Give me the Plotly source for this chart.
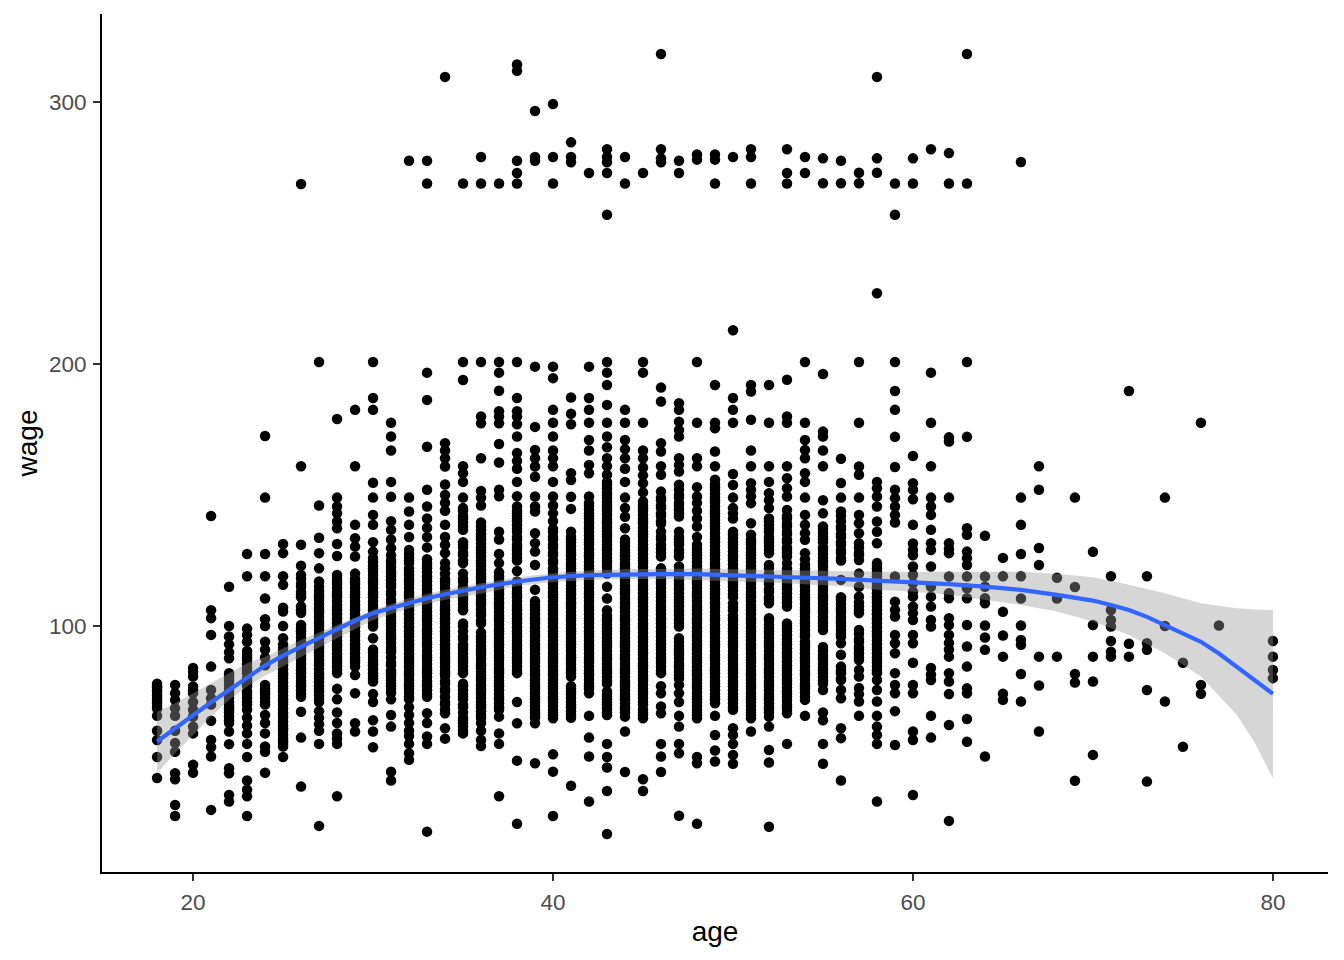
import plotly.graph_objects as go

w18 = [42,50,56.5,60,65.7,68.5,70.5,72.5,74.5,76.5,78,69.5,71.5,73.5,75.5,77]
w19 = [27.5,31.7,41.5,43.8,52,55.3,60,65.7,68.6,71.8,74.3,77.5]
w20 = [44,47,59,61.6,65.4,68,71,74.3,76.9,80.7,84,82.5,75.5]
w21 = [29.8,50.2,53.7,56.5,63.8,70,72.4,75.6,84.5,96.6,103,106,142]
w22 = [33,35.5,43.8,45.7,54.9,59.7,63,65.5,68,70,72.5,75,77.5,80,82,87.7,90,93,96,100,115,64,67,69,71,74,76,79,81]
w23 = [27.5,35,37.5,41,50,55,59,62,65,68,70,72.5,75,78,80,83,85.5,88,90.5,94,96.6,99,119,127.5,71,74,77,79,82,84,87,89]
w24 = [44,52,54,59,63,66,70,72.5,75,77.5,85,88,91,94,100,102.6,110.5,119,127.5,149,172.5,71,74,76]
w25 = [50,54,56,58.5,61,63.5,66,68.5,71,73.5,76,78.5,81,83.5,86,88.5,91,93,95.3,100,105.5,107,115.7,119,127.8,131.3]
w26 = [38.7,57.4,67.3,73,75.5,78,80.5,83,85.5,88,90.5,93,95.5,98,100.4,105,107.5,111,113,116,119.5,123,131,161,268.7]
w27 = [23.7,55,60,62.5,65,67.5,71,73.5,76,78.5,81,83.5,86,88.5,91,93.5,96,98.5,101,103.5,106,108.5,111,113.5,117,122,127.8,133.7,146,200.8]
w28 = [35,55,57,59,63,67,72,76,82,84.5,87,89.5,92,94.5,97,99.5,102,104.5,107,109.5,112,114.5,117,119.5,126.7,131.3,137.3,139.9,143,145.6,149,179]
w29 = [59.7,62.9,74.3,81.3,84.5,87,89.5,92,94.5,97,99.5,102,104.5,107,109.5,112,114.5,117,120,126.5,130.3,133.5,138.6,161,182.5]
w30 = [53.7,59.7,64,71,74,78.8,81,83.5,86,88.5,91,95.3,99.8,102,104.5,107,109.5,112,114.5,117,119.5,122,124.5,128.4,132,138.6,142.4,149,154.7,182.5,187,200.8]
w31 = [41,44.4,61.6,66,72,74.5,77,79.4,82,85,88,91,93.5,96,98.5,101,103.5,106,109,112,115,117.5,120,122.5,125,129.7,133,136.7,140,149.3,155,167,172.3,177.6]
w32 = [48.9,51.4,55,58,60,63,66,69,72,74.5,77,79.5,82,84.5,87,89.5,92,94.5,97,99.5,102,104.5,107,109.5,112,114.5,117,119.5,122,125,127.5,129,134,138.6,143.7,149,277.6]
w33 = [21.5,55,57.8,63,66.7,73,75.5,78,80.5,83,85.5,88,90.5,93,95.5,98,100.5,103,105.5,108,110.5,113,115.5,118,120.5,123,125.5,130,134,137.5,141,145.6,152,168.4,186.3,196.7,268.9,277.6]
w34 = [57,61,66.7,70,73,76,79,82,84.5,87,89.5,92,94.5,97,99.5,102,104.5,107,109.5,112,114.5,117,120,124,127.8,131,134,138.6,144,147,150,154,160.9,164,167,169.8,309.6]
w35 = [59,61.5,64,67,70,73,75.5,78,82,84.5,87,89.5,92,95,98,101,106,108.5,111,114,117,120,124,127,130,132,136.7,139.5,142,145,149,155,158.3,161,193.9,200.8,268.9]
w36 = [54.2,56.5,60,63,65,67.5,70,72.5,75,77.5,80,82.5,85,87.5,90,92.5,95,97.5,101,104,106.5,109,111.5,114,116.5,119,121.5,124,126.5,129,131.5,134,136.5,139.5,146,149,151.5,164,177.4,180,200.8,268.9,279]
w37 = [35,55,59,65.4,68,70.5,73,75.5,78,80.5,83,85.5,88,90.5,93,95.5,98,100.5,103,105.5,108,110.5,113,115.5,118,120.5,124,127.5,133,136,149.5,152,162.4,169.5,177.4,180,182,189.8,196.7,200.8,268.9]
w38 = [24.5,48.6,62.9,71,82,84.5,87,89.5,92,94.5,97,99.5,102,104.5,107,109.5,112,114.5,117,121,125,127.5,130,133,136,138.5,141,143,145.6,149.5,155,160,163,166,172.3,177,180,182,187,200.8,268.9,272.9,277.6,311.9,314.3]
w39 = [47.6,62.9,65,67,69.5,72,74.5,77,79.5,82,84.5,87,89.5,92,94.5,97,99.5,102,104.5,107,109.5,113.8,123.3,128.4,131.6,135.4,143.7,145.6,149.4,157,160.9,164,167.2,176,199,277.6,279,296.6]
w40 = [27.5,44.4,51,64.8,67,69.5,72,74.5,77,79.5,82,84.5,87,89.5,92,94.5,97,99.5,102,104.5,107,109.5,112,114.5,117,119.5,122,125,128,131,134,137,140,143,146,149.4,155,161,164,167,172.3,177.6,182.5,194.6,199,268.9,279,299.2]
w41 = [39,65,67.5,70,72.5,75,77,80.7,83,85.5,88,90.5,93,95.5,98,100.5,103,105.5,108,110.5,113,115.5,118,120.5,123,125.5,128,130.5,133,136,144.7,149.3,155.7,158.3,177,181,187.2,277,279,284.6]
w42 = [33,50.2,57.4,65.7,74.3,77,79.5,82,84.5,87,89.5,92,94.5,97,99.5,102,104.5,107,109.5,112,114.5,117,119.5,122,124.5,127,129.5,132,134.5,137,139.5,142,144.5,147,149.4,158.3,161.5,167,171,177.6,182.5,187,199,272.9]
w43 = [20.6,37,46,50,55,66,68.5,71,73,75,78,80.5,83,85.5,88,90.5,93,95.5,98,100.5,103,106,110.5,115,120,122.5,125,127.5,130,132.5,135,137.5,140,142.5,145,147.5,150,152.5,155,157.7,161,164,168.2,172.3,177.6,184.4,192,196.7,200.8,257,272.9,277,279,282]
w44 = [44.3,59.7,65.4,68,70.5,73,75.5,78,80.5,83,85.5,88,90.5,93,95.5,98,100.5,103,105.5,108,110.5,113,115.5,118,120.5,123,125.5,128,130.5,133,137.3,141.7,145,149,155,160,164,167.5,171,177.6,182.5,268.9,279]
w45 = [37,41.5,64.8,67,70,72.5,75,77.5,80,82.5,85,87.5,90,92.5,95,97.5,100,102.5,105,107.5,110,112.5,115,117.5,120,122.5,125,127.5,130,132.5,135,137.5,140,142.5,145,147.5,151,154.5,157.5,160.5,164,167,177.6,196.7,200.8,272.9]
w46 = [44.3,50.2,55,66.7,69.3,74.3,77,82,84.5,87,89.5,92,94.5,97,99.5,102,104.5,107,109.5,112,114.5,117,119.5,122,126.5,129.5,133,136,139,142,145,148,151.3,157.7,161,166.6,169.8,185.7,191,277,278.5,282,318.3]
w47 = [27.6,51.4,55,61.6,65.7,71,74.3,77.5,80,82.5,85,87.5,90,92.5,95.3,99.8,102.5,105,107.5,110,112.5,115,117.5,120,122.7,126.5,129,132,134,136,141.8,144.5,147,150,153.9,159,161.5,164,172.3,174.8,178,182.5,185,272.9,277.6]
w48 = [24.5,47.6,50,64.8,67,69.5,72,74.5,77,79.5,82,84.5,87,89.5,92,94.5,97,99.5,102,104.5,107,109.5,112,114.5,117,119.5,122,124.5,127,129.5,134,138,141,144,147,149.4,153,161,164,177.6,200.8,278,280]
w49 = [48.3,52.5,58.4,65.7,70.5,73,75.5,78,80.5,83,85.5,88,90.5,93,95.5,98,100.5,103,105.5,108,110.5,113,115.5,118,120.5,123,125.5,128,130.5,133,135.5,138,140.5,143,145.5,148,150.5,153,155.8,161,166.6,175.5,177.6,192,268.9,278,280]
w50 = [47.4,50.8,55,58.4,61,68,70.5,73,75.5,78,80.5,83,85.5,88,90.5,93,95.5,98,100.5,103,106,108.7,111,113.5,116,118.5,121,123.5,126,128.5,131,133.5,136,141,143,145,149,153.8,158,177.6,182.5,187,212.9,279]
w51 = [59.7,64.8,67,69.5,72,74.5,77,79.5,82,84.5,87,89.5,92,94.5,97,99.5,102,104.5,107,109.5,112,114.5,117,119.5,122,124.5,127,129.5,132,134.8,139.2,146.9,149.5,152,154.5,161,167,178.7,189.5,192,268.9,279,282]
w52 = [23.4,47.9,52.7,61.6,65.4,68,70.5,73,75.5,78,80.5,83,85.5,88,90.5,93,95.5,98,100.5,103,108.7,111,114,117,120,123.3,127.8,130.5,133,136,138.5,141,145,148,150.7,155,161,177.6,192]
w53 = [55,66.7,69,71.5,74,76.5,79,81.5,84,86.5,89,91.5,94,96.5,99,101,107.4,110,112.5,115,117.5,120,122,124,126.5,129,132,135,138,141,144.3,149.4,152.6,156.4,161,177.6,180,194,268.9,272.9,282]
w54 = [65.7,71.8,74.5,77,79.5,82,84.5,87,89.5,92,94,96,98.5,101,103.5,106,108.5,111,113.5,116,118.5,121,123.5,125.5,127.8,132.9,135.4,138.6,142.4,149,155,158.3,164,167.2,171,177.6,200.8,272.9,279]
w55 = [47.4,55,64,67,75.6,78,80.5,83,85.5,88,90.5,92,98.5,101,103.5,106,108.5,111,113.5,116,118.5,120,122.5,125,127.5,130,133,135.5,138,143,148,161,167,172.3,174.2,196.2,269,278.5]
w56 = [41,57.2,61,72.4,75.6,79.4,82,84.5,89,93.4,96,98.5,101,103.5,106,108.5,111,117.6,125,128,131,134,137,140,143.7,149,154.6,163.8,269,277.6]
w57 = [65.7,71.2,74,76.3,80.7,83.2,87,89.5,92,95,98.5,104.9,107.5,111.2,115,120,125.2,128,131.6,135.4,139.2,142.4,149,157.7,160.9,177.6,200.8,269,273]
w58 = [33,55,58.4,61.6,65.7,71.2,75.6,79.4,82,84.5,87,89.5,92,94.5,97,99.5,102,104.5,106,107.4,110,112.5,115,117.5,120,122,124,131.6,136,139.9,145.6,149.4,152.6,155,227,273,278.5,309.6]
w59 = [54.6,67.5,74.3,77.5,82,89.6,93.4,96.6,103.6,106.1,109.3,118.9,139.5,142.4,145.6,148.8,152,160.7,172.2,182.5,189.7,200.8,257,268.9]
w60 = [35.5,56.5,59.7,74.3,77.5,86,93.4,96.6,102.3,104.9,107.4,111.2,113.1,116.3,119.5,122.7,127,129,131.5,138.6,148.4,152,154.5,164.9,268.9,278.5]
w61 = [57.4,65.7,79.4,81.5,84,99.8,102.3,107.4,111.2,115,122.7,129,131.6,136.7,142.4,145.6,149,161,177.6,196.7,282]
w62 = [25.6,62.2,74,78.8,82,88.3,91,93.5,96.6,100.4,103,110.6,112.5,118.9,127.8,129.5,131.6,149,170.4,172,268.9,280.5]
w63 = [55.8,64.5,74.3,76.2,84.5,92.2,100.4,110.6,114.4,118.9,123.3,125.9,128.4,134.8,137.3,172.2,200.8,268.9,318.3]
w64 = [50.2,90.9,95.6,100.2,108.7,110.6,115,118.9,134.4]
w65 = [71.8,74.1,88.3,96.4,105.4,119,126]
w66 = [71.2,81.7,92.8,94.7,100.2,110.5,119,127.5,138.6,149,277.1]
w67 = [59.7,77.3,88.3,123.3,129.8,152,161]
w68 = [88.3,110.5,118.4]
w69 = [40.9,78.4,81.7,114.9,149]
w70 = [50.8,78.8,88.3,100.4,128.3]
w71 = [88.3,90.2,94.3,99.8,102.3,106.1,119]
w72 = [88.3,93.2,189.7]
w73 = [40.6,75.6,90.9,93.4,119]
w74 = [71.2,100,149]
w75 = [53.9,86]
w76 = [74.1,77.5,177.6]
w77 = [100.2]
w80 = [80.1,83.2,88.3,94.3]

point_ages = list(range(18, 78)) + [80]
columns = [w18,w19,w20,w21,w22,w23,w24,w25,w26,w27,w28,w29,w30,w31,w32,w33,w34,w35,w36,w37,
           w38,w39,w40,w41,w42,w43,w44,w45,w46,w47,w48,w49,w50,w51,w52,w53,w54,w55,w56,w57,
           w58,w59,w60,w61,w62,w63,w64,w65,w66,w67,w68,w69,w70,w71,w72,w73,w74,w75,w76,w77,w80]

# further wages read inside the columns that look solid, for ages 25 to 58
e25 = [55,57,60,62,65,67,70,72,75,77,80,82,85,87,90,92]
e26 = [74,77,79,82,84,87,89,92,94,97,99,106,112,115,118]
e27 = [72,75,77,80,82,85,87,90,92,95,97,100,102,105,107,110,112,115]
e28 = [83,86,88,91,93,96,98,101,103,106,108,111,113,116,118]
e29 = [86,88,91,93,96,98,101,103,106,108,111,113,116,118]
e30 = [80,82,85,87,90,101,103,106,108,111,113,116,118,121,123,126]
e31 = [76,78,81,83,86,90,92,95,97,100,102,105,107,110,113,116,119,121,124,127]
e32 = [73,76,78,81,83,86,88,91,93,96,98,101,103,106,108,111,113,116,118,121,124,126]
e33 = [74,77,79,82,84,87,89,92,94,97,99,102,104,107,109,112,114,117,119,122,124]
e34 = [68,71,75,78,81,83,86,88,91,93,96,98,101,103,106,108,111,113,116,118,122]
e35 = [60,63,65,69,72,74,77,83,86,88,91,93,96,100,107,110,112,115,118,125,128,131,138,141,144]
e36 = [66,69,71,74,76,79,81,84,86,89,91,94,96,102,105,108,110,113,115,118,120,123,125,128,130,133,135,138]
e37 = [69,72,74,77,79,82,84,87,89,92,94,97,99,102,104,107,109,112,114,117,119]
e38 = [83,86,88,91,93,96,98,101,103,106,108,111,113,116,126,129,131,134,137,140,142,144]
e39 = [66,68,71,73,76,78,81,83,86,88,91,93,96,98,101,103,106,108]
e40 = [66,68,71,73,76,78,81,83,86,88,91,93,96,98,101,103,106,108,111,113,116,118,121,124,127,130,133,136]
e41 = [66,69,71,74,76,82,84,87,89,92,94,97,99,102,104,107,109,112,114,117,119,122,124,127,129,132,134]
e42 = [76,78,81,83,86,88,91,93,96,98,101,103,106,108,111,113,116,118,121,123,126,128,131,133,136,138,141,143,146]
e43 = [67,70,72,74,79,82,84,87,89,92,94,97,99,102,104,121,124,126,129,131,134,136,139,141,144,146,149,151,154]
e44 = [67,69,72,74,77,79,82,84,87,89,92,94,97,99,102,104,107,109,112,114,117,119,122,124,127,129,132]
e45 = [66,68,71,74,76,79,81,84,86,89,91,94,96,99,101,104,106,109,111,114,116,119,121,124,126,129,131,134,136,139,141,144,146]
e46 = [83,86,88,91,93,96,98,101,103,106,108,111,113,116,118,121,128,131,134,140,143,146,149]
e47 = [81,84,86,89,91,94,101,104,106,109,111,114,116,119,121,128,131,133,143,146,149,152]
e48 = [66,68,71,73,76,78,81,83,86,88,91,93,96,98,101,103,106,108,111,113,116,118,121,123,126,128,131]
e49 = [72,74,77,79,82,84,87,89,92,94,97,99,102,104,107,109,112,114,117,119,122,124,127,129,132,134,137,139,142,144,147,149,152,154]
e50 = [69,72,74,77,79,82,84,87,89,92,94,97,99,102,104,107,112,115,117,120,122,125,127,130,132,135]
e51 = [66,68,71,73,76,78,81,83,86,88,91,93,96,98,101,103,106,108,111,113,116,118,121,123,126,128,131,133]
e52 = [67,69,72,74,77,79,82,84,87,89,92,94,97,99,102,110,113,116,119,122,129,132,134,137,140]
e53 = [68,70,73,75,78,80,83,85,88,90,93,95,98,100,109,111,114,116,119,121,128,130,133,136,139,142]
e54 = [73,76,78,81,83,86,88,91,93,97,100,102,105,107,110,112,115,117,120,122]
e55 = [79,82,84,87,89,100,102,105,107,110,112,115,117,121,124,126,129,132,134,137]
e56 = [80,83,97,100,102,105,107,110,126,129,132,135,138,142]
e57 = [88,91,94,97,106,109,127,130]
e58 = [83,86,88,91,93,96,98,101,103,105,109,111,114,116,119,121,123]

dense_ages = list(range(25, 59))
dense_columns = [e25,e26,e27,e28,e29,e30,e31,e32,e33,e34,e35,e36,e37,e38,e39,e40,e41,e42,e43,e44,
                 e45,e46,e47,e48,e49,e50,e51,e52,e53,e54,e55,e56,e57,e58]

fit_age = [18,19,20,21,22,23,24,25,26,27,28,29,30,31,32,33,34,35,36,38,40,42,44,46,48,50,52,54,56,58,60,62,64,66,68,70,71,72,73,74,75,76,77,78,79,80]
fit_wage = [55.9,61,66,70.9,75.6,80.4,84.9,88.7,92.2,95.6,98.8,102,104.9,106.9,108.8,110.6,112.1,113.5,114.8,117,118.6,119.4,119.8,119.8,119.8,119.4,119.1,118.6,118,117.3,116.7,116,115,113.8,111.9,109.7,108,106.1,103.5,100.4,97.3,94,89.5,84.2,79.2,74.1]
band_age = [18,19,20,21,22,23,24,26,28,30,32,34,36,38,40,42,44,46,48,50,52,54,56,58,60,62,64,66,68,70,72,74,76,78,79,80]
band_high = [67.3,70.5,74.3,78.2,82,85.8,88.3,94.7,100.4,106.1,110.6,113.8,116.3,118.6,120.1,121.2,121.7,121.9,121.9,121.7,121.4,121.2,120.9,120.7,120.7,120.7,120.7,120.7,119.9,118.6,115.7,112.5,108.7,106.8,106.3,106.1]
band_low = [43.8,51.4,58.4,65.4,71.8,76.9,81,88.3,95.3,102.3,106.8,110,112.3,115.3,116.8,117.6,117.9,117.9,117.6,117.1,116.6,116,115.3,113.8,113.1,111.9,110,108,105.5,101.7,96.6,89.6,80.7,66,55.3,41.9]

x_ticks = [20, 40, 60, 80]
y_ticks = [100, 200, 300]

xs, ys = [], []
for a, col in zip(point_ages + dense_ages, columns + dense_columns):
    xs += [a] * len(col)
    ys += col

fig = go.Figure()
fig.add_trace(go.Scatter(x=xs, y=ys, mode="markers",
                         marker=dict(color="black", size=10.5, line=dict(width=0)),
                         hoverinfo="skip", showlegend=False))
fig.add_trace(go.Scatter(x=band_age + band_age[::-1], y=band_high + band_low[::-1],
                         mode="lines", fill="toself", fillcolor="rgba(153,153,153,0.4)",
                         line=dict(width=0), hoverinfo="skip", showlegend=False))
fig.add_trace(go.Scatter(x=fit_age, y=fit_wage, mode="lines",
                         line=dict(color="#3366FF", width=4.2),
                         hoverinfo="skip", showlegend=False))

axis_style = dict(showgrid=False, zeroline=False, showline=True, linecolor="black", linewidth=2,
                  ticks="outside", ticklen=7, tickwidth=1.7, tickcolor="#333333",
                  ticklabelstandoff=2,
                  tickfont=dict(size=22.5, color="#4D4D4D"))
fig.update_layout(
    width=1344, height=960, autosize=False,
    margin=dict(l=102, r=16, t=14, b=88),
    plot_bgcolor="white", paper_bgcolor="white",
    font=dict(family="Liberation Sans, Arial, sans-serif", color="black"),
    xaxis=dict(range=[14.94, 83.06], tickvals=x_ticks,
               title=dict(text="age", font=dict(size=28, color="black"), standoff=7), **axis_style),
    yaxis=dict(range=[6.1, 333.6], tickvals=y_ticks,
               title=dict(text="wage", font=dict(size=28, color="black"), standoff=3), **axis_style),
)
fig.write_html("out.html", config=dict(displayModeBar=False),
               post_script="document.body.style.margin='0';document.body.style.overflow='hidden';")
